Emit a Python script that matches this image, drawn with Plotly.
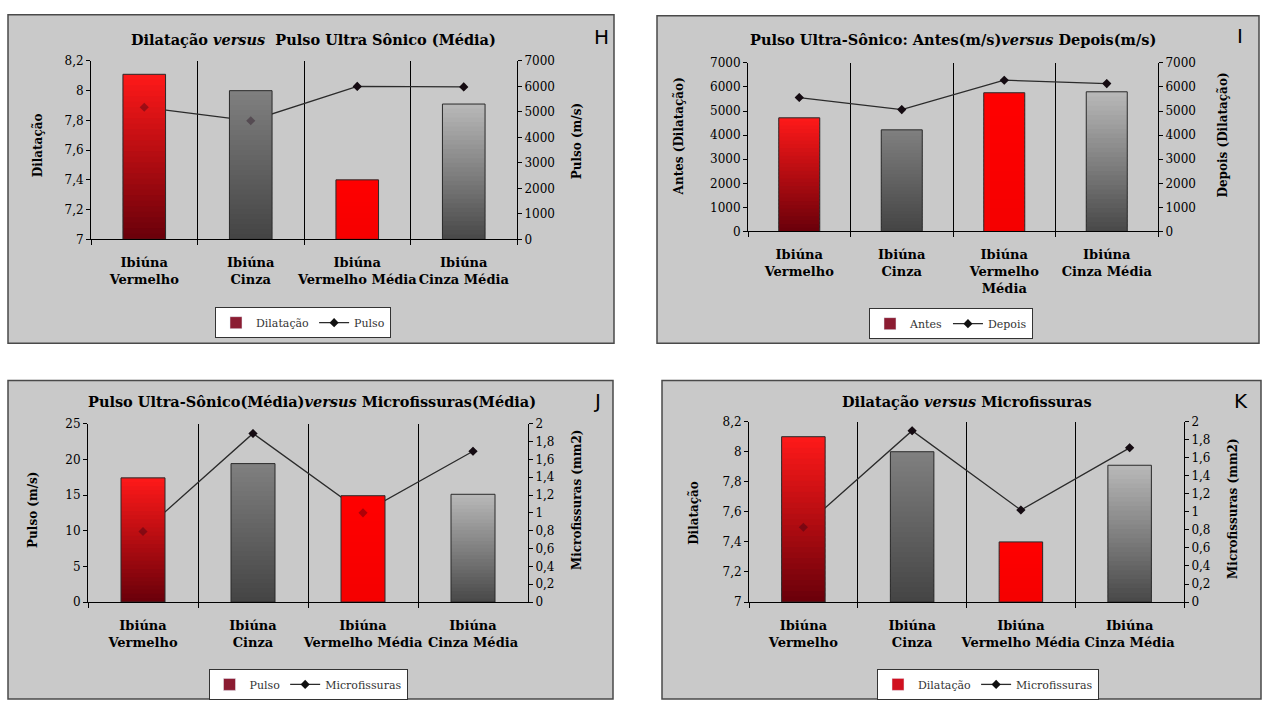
import plotly.graph_objects as go

# ---------------- data ----------------
categories = ["Ibiúna<br>Vermelho", "Ibiúna<br>Cinza", "Ibiúna<br>Vermelho Média", "Ibiúna<br>Cinza Média"]
categories_i = ["Ibiúna<br>Vermelho", "Ibiúna<br>Cinza", "Ibiúna<br>Vermelho<br>Média", "Ibiúna<br>Cinza Média"]

dilatacao_h = [8.11, 8.00, 7.40, 7.91]
pulso_h = [5180, 4650, 6000, 5980]

antes_i = [4720, 4220, 5760, 5800]
depois_i = [5560, 5060, 6280, 6140]

pulso_j = [17.4, 19.4, 14.9, 15.1]
micro_j = [0.79, 1.89, 1.00, 1.69]

dilatacao_k = [8.10, 8.00, 7.40, 7.91]
micro_k = [0.83, 1.90, 1.02, 1.71]

# ---------------- layout helpers ----------------
W, H = 1266, 711
SERIF = "DejaVu Serif"


def px(x):
    return x / W


def py(y):
    return 1 - y / H


panels = [
    dict(cats=categories, bars=dilatacao_h, line=pulso_h, bar_name="Dilatação", line_name="Pulso",
         lrange=[7, 8.2], ldtick=0.2, rrange=[0, 7000], rdtick=1000,
         ltitle="Dilatação", rtitle="Pulso (m/s)",
         title="Dilatação <i>versus</i>  Pulso Ultra Sônico (Média)", letter="H",
         plot=(91, 517, 55, 237), frame=(8, 614, 8, 343), legend=(303, 322),
         title_pos=(313, 33), letter_pos=(601, 31), lt_pos=(38, 141), rt_pos=(577, 137),
         swatch="#8b1c32"),
    dict(cats=categories_i, bars=antes_i, line=depois_i, bar_name="Antes", line_name="Depois",
         lrange=[0, 7000], ldtick=1000, rrange=[0, 7000], rdtick=1000,
         ltitle="Antes (Dilatação)", rtitle="Depois (Dilatação)",
         title="Pulso Ultra-Sônico: Antes(m/s)<i>versus</i> Depois(m/s)", letter="I",
         plot=(748, 1158, 57, 229), frame=(657, 1259, 9, 343), legend=(951, 323),
         title_pos=(953, 33), letter_pos=(1240, 30), lt_pos=(679, 132), rt_pos=(1223, 131),
         swatch="#8b1c32"),
    dict(cats=categories, bars=pulso_j, line=micro_j, bar_name="Pulso", line_name="Microfissuras",
         lrange=[0, 25], ldtick=5, rrange=[0, 2], rdtick=0.2,
         ltitle="Pulso (m/s)", rtitle="Microfissuras (mm2)",
         title="Pulso Ultra-Sônico(Média)<i>versus</i> Microfissuras(Média)", letter="J",
         plot=(88, 528, 425, 607), frame=(8, 613, 381, 706), legend=(308, 691),
         title_pos=(312, 402), letter_pos=(597, 402), lt_pos=(33, 513), rt_pos=(577, 503),
         swatch="#8b1c32"),
    dict(cats=categories, bars=dilatacao_k, line=micro_k, bar_name="Dilatação", line_name="Microfissuras",
         lrange=[7, 8.2], ldtick=0.2, rrange=[0, 2], rdtick=0.2,
         ltitle="Dilatação", rtitle="Microfissuras (mm2)",
         title="Dilatação <i>versus</i> Microfissuras", letter="K",
         plot=(749, 1184, 423, 607), frame=(662, 1261, 381, 706), legend=(988, 691),
         title_pos=(967, 402), letter_pos=(1241, 402), lt_pos=(694, 516), rt_pos=(1233, 512),
         swatch="#d0101f"),
]

# gradient styling per category (bottom colour, top colour)
GRAD_BOTTOM = [(105, 0, 10), (68, 68, 68), (245, 0, 0), (72, 72, 72)]
GRAD_TOP = [(255, 25, 25), (128, 128, 128), (255, 0, 0), (185, 185, 185)]
NSEG = 30


def lerp(c1, c2, t):
    return "rgb(%d,%d,%d)" % tuple(round(a + (b - a) * t) for a, b in zip(c1, c2))


def yid(num):
    return "y" if num == 1 else f"y{num}"


def ykey(num):
    return "yaxis" if num == 1 else f"yaxis{num}"


fig = go.Figure()
layout = dict(
    width=W, height=H, margin=dict(l=0, r=0, t=0, b=0),
    paper_bgcolor="white", plot_bgcolor="white",
    barmode="overlay", separators=",.", showlegend=True,
    shapes=[], annotations=[],
)

for i, p in enumerate(panels):
    n = i + 1
    xname = "x" if n == 1 else f"x{n}"
    main_id, bar_id, mk_id = 3 * n - 2, 3 * n - 1, 3 * n
    ymain, ybar, ymk = yid(main_id), yid(bar_id), yid(mk_id)
    legname = "legend" if n == 1 else f"legend{n}"
    cats = p["cats"]
    b0 = p["lrange"][0]

    # legend swatch for bars (first in legend)
    fig.add_trace(go.Bar(x=[cats[0]], y=[None], name=p["bar_name"], marker_color=p["swatch"],
                         xaxis=xname, yaxis=ybar, legend=legname, showlegend=True))
    # line series (drawn beneath bars)
    fig.add_trace(go.Scatter(x=cats, y=p["line"], mode="lines+markers", name=p["line_name"],
                             line=dict(color="#2b2b2b", width=1.3),
                             marker=dict(symbol="diamond", size=7, color="#111111"),
                             xaxis=xname, yaxis=ymain, legend=legname, showlegend=True))
    # gradient bars, built as stacked slices of each data value; each slice
    # overlaps into the next (drawn later) to avoid anti-aliasing seams
    for k in range(NSEG):
        t = (k + 0.5) / NSEG
        bases = [b0 + (v - b0) * k / NSEG for v in p["bars"]]
        top_frac = min(k + 1.6, NSEG) / NSEG
        heights = [b0 + (v - b0) * top_frac - bb for v, bb in zip(p["bars"], bases)]
        colors = [lerp(GRAD_BOTTOM[c], GRAD_TOP[c], t) for c in range(len(cats))]
        fig.add_trace(go.Bar(x=cats, y=heights, base=bases, width=0.4,
                             marker=dict(color=colors, line=dict(width=0)),
                             xaxis=xname, yaxis=ybar, showlegend=False, hoverinfo="skip"))
    # bar outlines
    fig.add_trace(go.Bar(x=cats, y=[v - b0 for v in p["bars"]], base=b0, width=0.4,
                         marker=dict(color="rgba(0,0,0,0)", line=dict(color="#2a2a2a", width=1)),
                         xaxis=xname, yaxis=ybar, showlegend=False, name=p["bar_name"]))
    # faint markers showing through the bars (as in the original)
    fig.add_trace(go.Scatter(x=cats, y=p["line"], mode="markers",
                             marker=dict(symbol="diamond", size=7, color="rgba(30,0,20,0.35)"),
                             xaxis=xname, yaxis=ymk, showlegend=False, hoverinfo="skip"))

    x0, x1, y0, y1 = p["plot"]
    tickfont = dict(family=SERIF, size=12, color="black")
    layout["xaxis" if n == 1 else f"xaxis{n}"] = dict(
        domain=[px(x0), px(x1)], anchor=ymain, type="category", range=[-0.5, 3.5],
        tickson="boundaries", ticks="outside", ticklen=5, tickcolor="black",
        showgrid=True, gridcolor="black", gridwidth=1,
        showline=True, linecolor="black", linewidth=1, tickangle=0,
        tickfont=dict(family=SERIF, size=13, color="black", weight="bold"),
        ticklabelstandoff=11, fixedrange=True,
    )
    layout[ykey(main_id)] = dict(
        domain=[py(y1), py(y0)], anchor=xname, side="right",
        range=p["rrange"], dtick=p["rdtick"], tick0=0, ticks="outside", ticklen=4, tickcolor="black",
        showline=True, linecolor="black", linewidth=1, showgrid=False, zeroline=False,
        tickfont=tickfont, fixedrange=True,
    )
    layout[ykey(bar_id)] = dict(
        overlaying=ymain, anchor=xname, side="left",
        range=p["lrange"], dtick=p["ldtick"], tick0=0, ticks="outside", ticklen=4, tickcolor="black",
        showline=True, linecolor="black", linewidth=1, showgrid=False, zeroline=False,
        tickfont=tickfont, fixedrange=True,
    )
    layout[ykey(mk_id)] = dict(
        overlaying=ymain, anchor=xname, side="right", range=p["rrange"],
        visible=False, showgrid=False, zeroline=False, fixedrange=True,
    )

    # gray panel frame
    fx0, fx1, fy0, fy1 = p["frame"]
    layout["shapes"].append(dict(type="rect", xref="paper", yref="paper",
                                 x0=px(fx0), x1=px(fx1), y0=py(fy1), y1=py(fy0),
                                 fillcolor="#c9c9c9", line=dict(color="#4a4a4a", width=1.5),
                                 layer="below"))

    # legend box
    lx, ly = p["legend"]
    layout[legname] = dict(
        orientation="h", x=px(lx), y=py(ly), xanchor="center", yanchor="middle",
        bgcolor="white", bordercolor="#333333", borderwidth=1,
        font=dict(family=SERIF, size=11, color="#333333"), itemwidth=30,
        traceorder="normal",
    )

    # titles
    tx, ty = p["title_pos"]
    layout["annotations"].append(dict(text=f"<b>{p['title']}</b>", x=px(tx), y=py(ty),
                                      xref="paper", yref="paper", showarrow=False,
                                      xanchor="center", yanchor="middle",
                                      font=dict(family=SERIF, size=14.5, color="black")))
    lx2, ly2 = p["letter_pos"]
    layout["annotations"].append(dict(text=p["letter"], x=px(lx2), y=py(ly2),
                                      xref="paper", yref="paper", showarrow=False,
                                      xanchor="center", yanchor="middle",
                                      font=dict(family="DejaVu Sans", size=20, color="black")))
    for key, txt in (("lt_pos", p["ltitle"]), ("rt_pos", p["rtitle"])):
        ax, ay = p[key]
        layout["annotations"].append(dict(text=f"<b>{txt}</b>", x=px(ax), y=py(ay),
                                          xref="paper", yref="paper", showarrow=False,
                                          textangle=-90, xanchor="center", yanchor="middle",
                                          font=dict(family=SERIF, size=12, color="black")))

fig.update_layout(**layout)
fig.write_html("out.html", config={"displayModeBar": False},
               post_script="document.body.style.margin='0';document.body.style.overflow='hidden';")
